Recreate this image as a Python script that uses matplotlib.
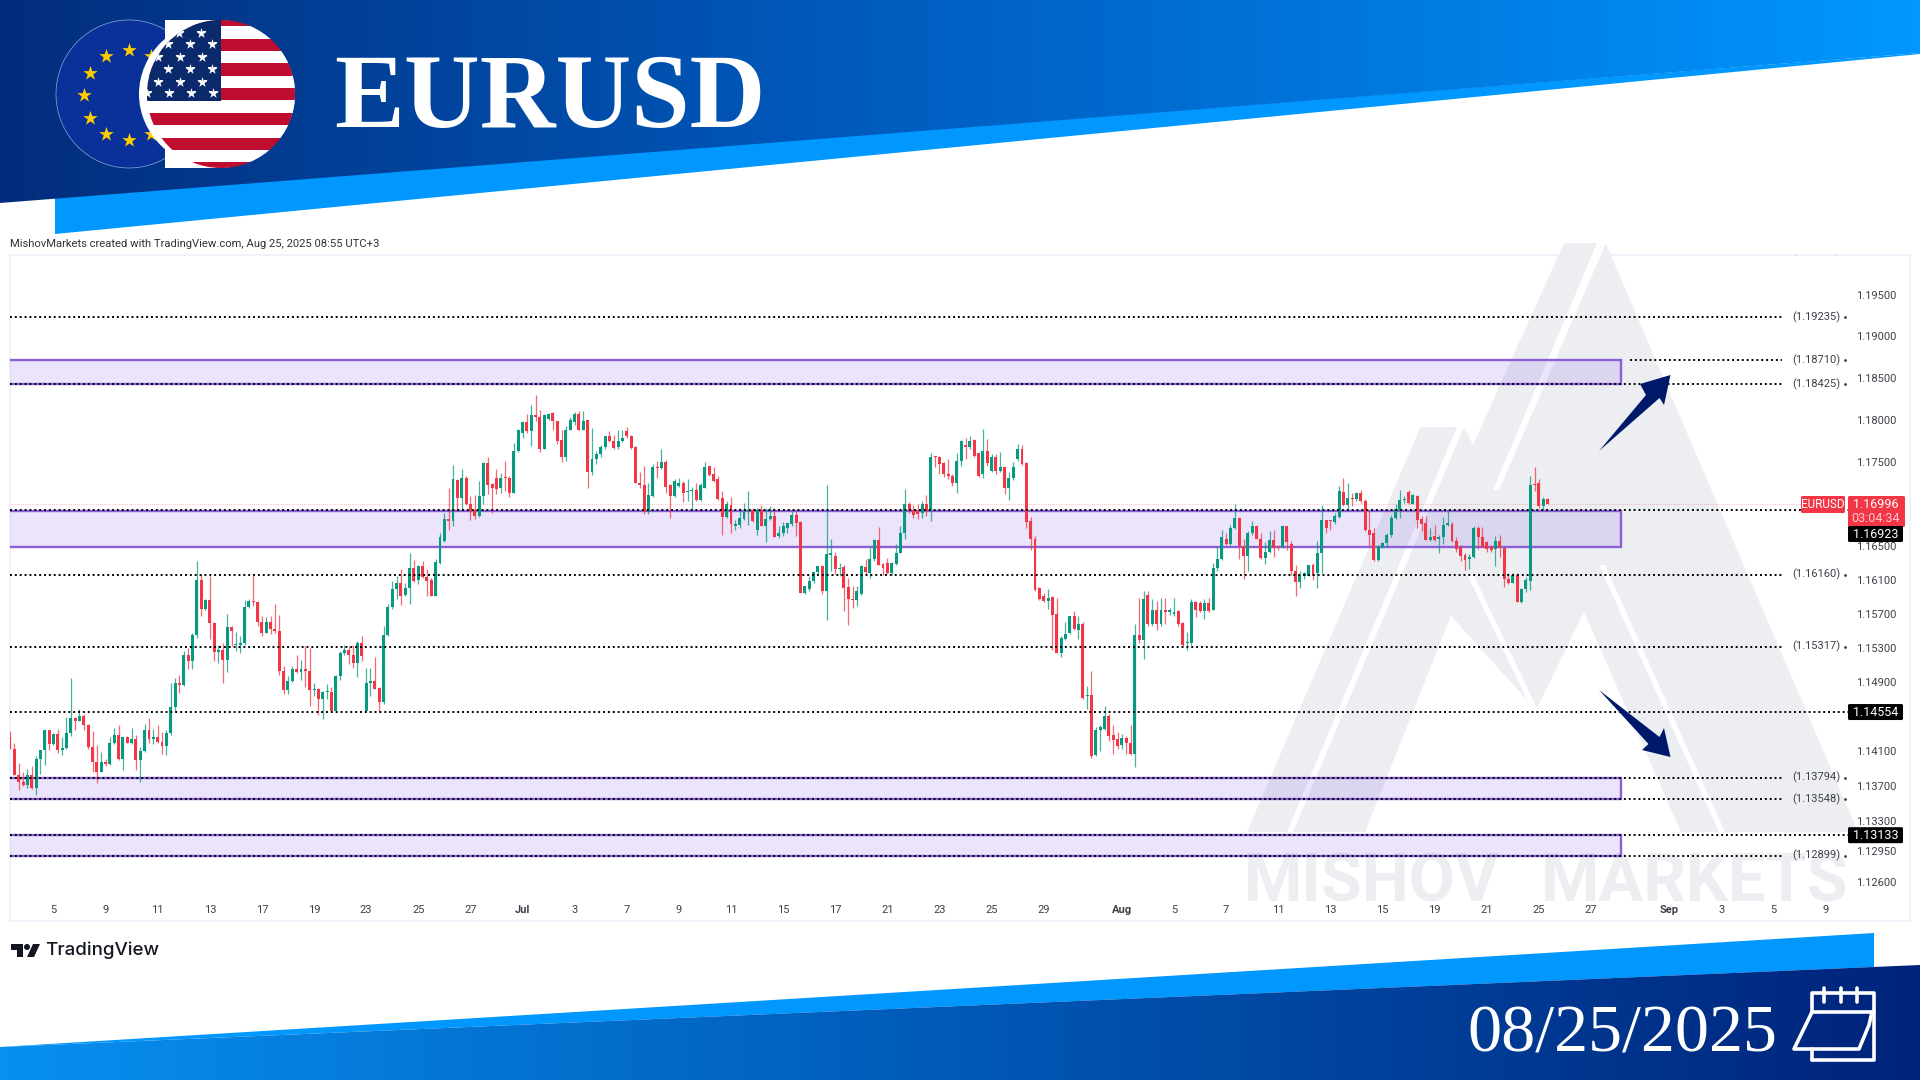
import numpy as np
import matplotlib
matplotlib.use('Agg')
import matplotlib.pyplot as plt
from matplotlib.colors import LinearSegmentedColormap
from matplotlib.patches import Polygon, Ellipse, Rectangle, FancyBboxPatch, Circle
from matplotlib.ticker import NullLocator, NullFormatter

# 4H candles, prices in 1/10000
open_pips = [
    11426,11413,11383,11375,11371,11383,11367,11401,11411,11435, 11418,11430,11411,11414,11431,11449,11445,11451,11440,11415,
    11397,11386,11397,11395,11420,11429,11401,11426,11420,11424, 11400,11410,11434,11424,11427,11421,11416,11431,11461,11489,
    11487,11522,11515,11545,11610,11576,11586,11559,11525,11528, 11516,11554,11533,11533,11536,11578,11585,11584,11560,11548,
    11560,11552,11550,11503,11481,11491,11506,11502,11506,11503, 11481,11482,11470,11479,11479,11457,11497,11524,11528,11522,
    11513,11536,11457,11489,11491,11483,11467,11545,11578,11599, 11606,11592,11600,11624,11610,11626,11613,11610,11591,11630,
    11656,11682,11679,11728,11707,11730,11700,11692,11685,11709, 11748,11723,11731,11718,11731,11730,11713,11763,11784,11797,
    11786,11805,11803,11765,11801,11808,11798,11776,11756,11788, 11797,11807,11788,11799,11737,11753,11759,11767,11780,11774,
    11767,11774,11786,11780,11767,11724,11722,11690,11709,11744, 11742,11749,11722,11709,11721,11725,11714,11715,11716,11704,
    11719,11745,11735,11729,11707,11684,11698,11673,11675,11682, 11690,11693,11669,11693,11673,11682,11685,11662,11665,11671,
    11676,11687,11678,11595,11599,11608,11619,11626,11597,11639, 11638,11623,11625,11602,11587,11586,11593,11625,11618,11634,
    11657,11629,11630,11618,11629,11642,11665,11700,11693,11691, 11689,11700,11691,11756,11756,11748,11735,11733,11724,11751,
    11770,11767,11776,11760,11735,11763,11739,11755,11739,11743, 11718,11730,11753,11765,11748,11679,11658,11600,11591,11585,
    11590,11570,11524,11541,11547,11568,11551,11558,11474,11475, 11406,11435,11436,11451,11429,11424,11417,11425,11420,11407,
    11545,11539,11592,11558,11575,11558,11575,11572,11570,11573, 11559,11536,11536,11584,11583,11573,11583,11575,11624,11634,
    11658,11652,11671,11683,11650,11638,11665,11673,11658,11636, 11643,11657,11650,11649,11673,11652,11620,11607,11614,11614,
    11628,11618,11641,11680,11680,11678,11684,11714,11698,11707, 11705,11712,11703,11669,11665,11633,11649,11653,11663,11683,
    11693,11704,11714,11700,11709,11682,11677,11657,11662,11658, 11661,11675,11676,11656,11649,11639,11634,11637,11671,11660,
    11654,11649,11646,11656,11648,11611,11606,11616,11584,11599, 11609,11723,11724,11697,11706]
high_pips = [
    11433,11419,11396,11386,11389,11393,11405,11411,11436,11435, 11431,11436,11426,11450,11495,11450,11459,11453,11442,11433,
    11417,11409,11401,11426,11437,11440,11427,11428,11437,11429, 11415,11441,11449,11436,11440,11432,11435,11489,11495,11498,
    11526,11530,11548,11632,11617,11588,11614,11560,11534,11536, 11570,11556,11549,11544,11586,11587,11616,11585,11568,11566,
    11567,11581,11569,11509,11497,11509,11522,11516,11532,11530, 11489,11483,11480,11488,11484,11499,11526,11533,11532,11534,
    11538,11544,11507,11507,11520,11484,11556,11581,11608,11614, 11623,11606,11642,11633,11628,11632,11623,11612,11635,11665,
    11689,11718,11746,11729,11741,11733,11709,11710,11727,11749, 11755,11724,11741,11736,11751,11733,11772,11789,11798,11807,
    11817,11830,11811,11807,11808,11809,11798,11788,11792,11803, 11809,11810,11810,11800,11790,11763,11770,11781,11786,11782,
    11788,11788,11791,11782,11768,11737,11745,11724,11747,11751, 11765,11752,11723,11729,11731,11727,11729,11720,11724,11724,
    11749,11745,11744,11733,11715,11703,11708,11681,11695,11701, 11715,11695,11695,11698,11695,11697,11695,11673,11678,11677,
    11691,11691,11679,11603,11614,11619,11626,11628,11722,11658, 11643,11630,11628,11612,11603,11603,11628,11634,11647,11658,
    11672,11630,11636,11631,11652,11673,11717,11702,11698,11699, 11703,11710,11760,11757,11757,11749,11753,11735,11760,11776,
    11778,11780,11777,11761,11789,11777,11759,11759,11761,11744, 11737,11749,11771,11770,11749,11684,11662,11601,11594,11599,
    11591,11589,11544,11561,11568,11573,11568,11560,11486,11503, 11438,11440,11462,11453,11440,11432,11430,11428,11440,11558,
    11589,11597,11597,11587,11585,11589,11589,11577,11589,11575, 11560,11549,11587,11585,11585,11587,11589,11630,11649,11669,
    11665,11675,11699,11684,11658,11667,11679,11675,11665,11654, 11667,11669,11651,11675,11674,11656,11627,11620,11619,11627,
    11630,11656,11698,11681,11681,11689,11721,11731,11724,11713, 11714,11716,11706,11693,11671,11651,11654,11665,11686,11700,
    11716,11709,11716,11711,11710,11685,11685,11671,11675,11663, 11684,11693,11678,11661,11651,11642,11640,11674,11673,11672,
    11656,11651,11662,11663,11649,11618,11618,11618,11600,11613, 11733,11743,11729,11708,11707]
low_pips = [
    11412,11383,11365,11370,11367,11366,11359,11384,11394,11411, 11417,11408,11406,11412,11428,11434,11445,11434,11413,11386,
    11373,11386,11393,11394,11418,11400,11388,11420,11418,11388, 11374,11409,11420,11418,11420,11407,11406,11429,11455,11478,
    11486,11506,11506,11542,11568,11574,11540,11515,11513,11489, 11502,11532,11526,11524,11534,11577,11579,11556,11544,11547,
    11546,11548,11499,11476,11476,11490,11501,11493,11484,11462, 11474,11452,11447,11470,11456,11456,11493,11522,11511,11507,
    11496,11515,11457,11474,11482,11455,11465,11544,11576,11587, 11580,11591,11582,11607,11605,11612,11591,11591,11591,11629,
    11654,11669,11673,11691,11691,11698,11681,11682,11684,11699, 11711,11689,11711,11713,11715,11708,11712,11761,11778,11784,
    11768,11798,11761,11765,11800,11788,11771,11749,11751,11788, 11794,11788,11788,11718,11734,11747,11756,11765,11773,11765,
    11765,11773,11778,11765,11724,11719,11688,11688,11708,11731, 11741,11713,11683,11708,11720,11702,11703,11692,11703,11703,
    11718,11733,11726,11704,11663,11683,11665,11669,11671,11681, 11675,11678,11663,11673,11654,11681,11660,11659,11662,11665,
    11674,11662,11594,11593,11597,11606,11617,11593,11563,11620, 11617,11615,11573,11557,11577,11579,11592,11617,11612,11632,
    11628,11616,11617,11616,11628,11641,11658,11689,11683,11682, 11683,11685,11679,11743,11735,11732,11729,11721,11712,11745,
    11753,11765,11756,11732,11731,11745,11738,11735,11737,11711, 11704,11728,11751,11746,11671,11645,11597,11586,11584,11576,
    11528,11524,11520,11539,11546,11551,11541,11470,11459,11402, 11405,11410,11434,11422,11407,11413,11413,11407,11406,11392,
    11536,11517,11556,11556,11551,11556,11558,11569,11568,11556, 11532,11528,11534,11566,11572,11564,11572,11574,11620,11633,
    11651,11651,11670,11635,11611,11620,11663,11658,11635,11629, 11641,11637,11645,11647,11645,11616,11591,11600,11611,11614,
    11610,11600,11618,11665,11669,11676,11683,11697,11693,11697, 11703,11701,11667,11650,11632,11632,11648,11649,11661,11682,
    11683,11701,11700,11699,11671,11667,11657,11656,11656,11641, 11652,11673,11655,11643,11632,11622,11623,11636,11646,11649,
    11643,11643,11626,11637,11602,11605,11606,11584,11583,11596, 11598,11715,11695,11693,11700]
close_pips = [
    11413,11383,11375,11371,11383,11367,11401,11411,11435,11418, 11430,11411,11414,11431,11449,11445,11451,11440,11415,11397,
    11386,11397,11395,11420,11429,11401,11426,11420,11424,11400, 11410,11434,11424,11427,11421,11416,11431,11461,11489,11487,
    11522,11515,11545,11610,11576,11586,11559,11525,11528,11516, 11554,11550,11535,11536,11578,11585,11584,11560,11548,11560,
    11552,11550,11503,11481,11491,11506,11502,11506,11503,11481, 11482,11470,11479,11480,11457,11497,11524,11528,11522,11513,
    11536,11521,11489,11491,11482,11467,11545,11578,11599,11606, 11591,11600,11624,11608,11626,11613,11609,11591,11631,11660,
    11682,11679,11729,11707,11730,11700,11691,11685,11709,11748, 11722,11718,11717,11731,11730,11713,11763,11788,11797,11786,
    11805,11803,11765,11806,11807,11798,11774,11756,11788,11800, 11807,11788,11798,11737,11753,11759,11767,11780,11774,11766,
    11774,11778,11780,11766,11724,11722,11690,11710,11743,11742, 11749,11720,11709,11727,11725,11712,11714,11716,11704,11722,
    11744,11734,11727,11706,11684,11700,11676,11676,11683,11690, 11693,11679,11693,11673,11682,11685,11661,11665,11673,11677,
    11687,11677,11595,11603,11608,11619,11626,11597,11640,11642, 11623,11624,11600,11587,11586,11597,11626,11619,11635,11657,
    11628,11624,11618,11630,11642,11665,11700,11691,11687,11688, 11700,11691,11756,11755,11747,11735,11733,11724,11751,11774,
    11767,11774,11757,11733,11763,11748,11755,11739,11743,11718, 11730,11743,11765,11747,11678,11658,11598,11587,11585,11589,
    11569,11524,11542,11546,11567,11552,11558,11472,11475,11405, 11435,11438,11451,11428,11423,11416,11425,11420,11407,11545,
    11539,11588,11558,11575,11558,11575,11572,11574,11572,11558, 11534,11537,11584,11574,11573,11583,11573,11624,11634,11660,
    11652,11671,11683,11650,11638,11665,11673,11658,11636,11643, 11657,11647,11649,11673,11654,11620,11607,11616,11618,11627,
    11614,11642,11680,11671,11679,11685,11715,11698,11707,11705, 11712,11703,11669,11663,11633,11650,11653,11663,11683,11694,
    11704,11705,11701,11710,11681,11676,11657,11661,11657,11661, 11675,11677,11656,11646,11638,11633,11637,11671,11660,11649,
    11646,11645,11656,11647,11611,11606,11616,11584,11599,11610, 11722,11722,11697,11706,11700]

price_ticks = [1.195, 1.19, 1.185, 1.18, 1.175, 1.165, 1.161, 1.157, 1.153, 1.149, 1.141, 1.137, 1.133, 1.1295, 1.126]
level_labels = [1.19235, 1.1871, 1.18425, 1.1616, 1.15317, 1.13794, 1.13548, 1.12899]
level_tags = [1.16923, 1.14554, 1.13133]
last_price = 1.16996
zones = [(1.18425, 1.1871), (1.1649, 1.1691), (1.13548, 1.13794), (1.12899, 1.13133)]

date_labels = ['5','9','11','13','17','19','23','25','27','Jul','3','7','9','11','15','17','21','23','25','29',
               'Aug','5','7','11','13','15','19','21','25','27','Sep','3','5','9']
date_bars = [10,22,34,46,58,70,82,94,106,118,130,142,154,166,178,190,202,214,226,238,
             256,268,280,292,304,316,328,340,352,364,382,394,406,418]

o = np.array(open_pips) / 1e4
h = np.array(high_pips) / 1e4
l = np.array(low_pips) / 1e4
c = np.array(close_pips) / 1e4
bars = np.arange(len(c))

plt.rcParams['font.family'] = ['Roboto', 'DejaVu Sans']
GREEN = '#089981'
RED = '#f23645'
TXT = '#3d4048'
WM = '#eceef2'
NAVY = '#00186a'

fig = plt.figure(figsize=(19.2, 10.8), dpi=100, facecolor='white')


def px_axes(x0, y0, x1, y1, z):
    return fig.add_axes([x0 / 1920, 1 - y1 / 1080, (x1 - x0) / 1920, (y1 - y0) / 1080], zorder=z)


bg = px_axes(0, 0, 1920, 1080, 0)
bg.set_xlim(0, 1920)
bg.set_ylim(1080, 0)
bg.axis('off')


def gradient(ax, pts, colors):
    cm = LinearSegmentedColormap.from_list('g', colors)
    im = ax.imshow(np.linspace(0, 1, 512).reshape(1, -1), cmap=cm, extent=(0, 1920, 1080, 0), aspect='auto', zorder=2)
    im.set_clip_path(Polygon(pts, transform=ax.transData))


# banners
bg.add_patch(Polygon([(55, 197), (1920, 53), (1920, 54), (55, 234)], color='#0097ff', lw=0, zorder=1))
gradient(bg, [(0, 0), (1920, 0), (1920, 53), (0, 203)],
         [(0, '#032d7c'), (0.42, '#0058ba'), (0.57, '#0068cc'), (1, '#0097ff')])
bg.add_patch(Polygon([(0, 1047), (1874, 933), (1874, 967), (0, 1047)], color='#0097ff', lw=0, zorder=1))
gradient(bg, [(0, 1047), (1920, 965), (1920, 1080), (0, 1080)], [(0, '#0890f0'), (0.5, '#0059b6'), (1, '#00237a')])

# chart panel
bg.add_patch(Rectangle((10, 255), 1900, 666, fc='white', ec='#f0f3fa', lw=1.5, zorder=3))

# watermark
bg.add_patch(Polygon([(1247, 832), (1420.5, 427), (1464, 427), (1473, 445), (1564, 243), (1600, 243), (1606, 244),
                      (1858, 832)], color=WM, lw=0, zorder=4))
white_parts = [
    [(1597, 243), (1606, 243), (1499, 490), (1493, 490)],
    [(1457, 427), (1464, 427), (1293, 832), (1287, 832)],
    [(1467, 574), (1473, 574), (1538, 710), (1532, 710)],
    [(1599, 565), (1605, 565), (1725, 832), (1719, 832)],
    [(1365, 832), (1451, 616), (1536, 710), (1584, 612), (1681, 832)],
]
for w in white_parts:
    bg.add_patch(Polygon(w, color='white', lw=0, zorder=5))
bg.text(1371, 884, 'MISHOV', color=WM, fontsize=48, fontweight='bold', ha='center', va='center', zorder=6)
bg.text(1695, 884, 'MARKETS', color=WM, fontsize=48, fontweight='bold', ha='center', va='center', zorder=6)

# flags
bg.add_patch(Ellipse((129, 94), 146, 148, fc='#0a3199', ec='#8fa8d8', lw=0.5, zorder=7))
star_a = np.deg2rad(np.arange(0, 360, 30))
bg.scatter(128.6 + 45 * np.cos(star_a), 95 + 45 * np.sin(star_a), marker='*', s=120, color='#ffcc00', lw=0, zorder=8)
bg.add_patch(Rectangle((165, 20), 52, 148, fc='white', lw=0, zorder=9))
bg.add_patch(Ellipse((217, 94), 156, 148, fc='white', lw=0, zorder=9))
us_clip = Ellipse((221, 94), 148, 148, transform=bg.transData)
for k in range(13):
    s = bg.add_patch(Rectangle((130, 20 + k * 12.35 - 6), 180, 12.4, fc='#bf0d30' if k % 2 == 0 else 'white', lw=0, zorder=10))
    s.set_clip_path(us_clip)
s = bg.add_patch(Rectangle((130, 15), 91, 86, fc='#0a2a6b', lw=0, zorder=11))
s.set_clip_path(us_clip)
star_rows = [(33, 157), (44, 168), (57, 158), (69, 168), (82, 158), (93, 147)]
for yy, x0 in star_rows:
    xs = [x0 + 22 * n for n in range(4)]
    xs = [x for x in xs if x < 218]
    pts = bg.scatter(xs, [yy] * len(xs), marker='*', s=60, color='white', lw=0, zorder=12)
    pts.set_clip_path(us_clip)

bg.text(550, 101, 'EURUSD', color='white', fontsize=75.5, fontweight='bold', family='Liberation Serif', ha='center', va='center', zorder=7)
bg.text(1622, 1035, '08/25/2025', color='white', fontsize=49, family='Liberation Serif', ha='center', va='center', zorder=7)

# calendar icon
cal = dict(color='white', lw=2.6, zorder=7, solid_capstyle='round', solid_joinstyle='round')
bg.plot([1812, 1812, 1874, 1874, 1812], [1012, 993, 993, 1060, 1060], **cal)
bg.plot([1812, 1812], [1049, 1060], **cal)
bg.plot([1812, 1874], [1012, 1012], **cal)
bg.plot([1812, 1794, 1859, 1869, 1872], [1012, 1049, 1049, 1025, 1012], **cal)
for x in [1824, 1841, 1857]:
    bg.plot([x, x], [988, 1002], **cal)

# header and footer text
bg.text(10, 244, 'MishovMarkets created with TradingView.com, Aug 25, 2025 08:55 UTC+3', color='#333333', fontsize=8.1, va='center', zorder=7)
bg.add_patch(Polygon([(11, 944), (23, 944), (23, 957), (17, 957), (17, 950), (11, 950)], color='#131722', lw=0, zorder=7))
bg.add_patch(Circle((27, 947), 3, color='#131722', lw=0, zorder=7))
bg.add_patch(Polygon([(33, 944), (40, 944), (34, 957), (27, 957)], color='#131722', lw=0, zorder=7))
bg.text(45, 950, 'TradingView', color='#131722', fontsize=13.5, fontweight='medium', family='Inter', va='center', zorder=7)

# chart
ax = px_axes(10, 255, 1852, 895, 1)
ax.patch.set_alpha(0)
ax.set_yscale('log')
ax.set_xlim(0, 424.1)
ax.set_ylim(1.12449, 1.19986)
for sp in ax.spines.values():
    sp.set_visible(False)

for low, high in zones:
    ax.add_patch(Rectangle((-5, low), 376, high - low, fc=(0.49, 0.30, 0.90, 0.15), ec='#8a5fd8', lw=1.7, zorder=1))

colors = [GREEN if b >= a else RED for a, b in zip(o, c)]
ax.vlines(bars, l, h, colors=colors, lw=0.9, alpha=0.75, zorder=2)
ax.bar(bars, np.maximum(np.abs(c - o), 0.00012), bottom=np.minimum(o, c), width=0.68, color=colors, lw=0, zorder=2.2)

dots = dict(color='black', lw=1.4, linestyle=(0, (1, 1.5)), zorder=3)
for p in level_labels:
    ax.plot([373 if p == 1.1871 else 0, 408], [p, p], **dots)
    ax.text(415.8, p, '(%.5f)' % p, color=TXT, fontsize=8, ha='center', va='center', zorder=3)
    ax.plot([422.6], [p], marker='.', ms=2, color=TXT, zorder=3)
for p in level_tags:
    ax.plot([0, 424.1], [p, p], **dots)
ax.plot([0, 418], [last_price, last_price], color=RED, lw=0.5, linestyle=(0, (1, 2)), alpha=0.6, zorder=3)
ax.text(415.8, 1.2004, '(1.20000)', color=TXT, fontsize=8, ha='center', va='center', clip_on=True, zorder=3)

ax.set_yticks(price_ticks)
ax.set_yticklabels(['%.5f' % p for p in price_ticks])
ax.yaxis.set_minor_locator(NullLocator())
ax.yaxis.set_minor_formatter(NullFormatter())
ax.yaxis.tick_right()
ax.tick_params(axis='y', length=0, pad=3, labelsize=8, labelcolor=TXT)
ax.set_xticks(date_bars)
ax.set_xticklabels(date_labels)
ax.tick_params(axis='x', length=0, pad=7, labelsize=8, labelcolor=TXT)
for t, lab in zip(ax.get_xticklabels(), date_labels):
    if lab in ('Jul', 'Aug', 'Sep'):
        t.set_fontweight('bold')

# overlay: arrows and price tags
top = px_axes(0, 0, 1920, 1080, 2)
top.set_xlim(0, 1920)
top.set_ylim(1080, 0)
top.axis('off')
top.add_patch(Polygon([(1599, 451), (1646, 395), (1640, 384), (1670.5, 375), (1664, 405), (1659.5, 398)], color=NAVY, lw=0))
top.add_patch(Polygon([(1599, 690), (1648.5, 744), (1642, 750), (1670.5, 757), (1664, 728), (1659.5, 737)], color=NAVY, lw=0))


def tag(x0, y0, x1, y1, col):
    top.add_patch(FancyBboxPatch((x0 + 1.5, y0 + 1.5), x1 - x0 - 3, y1 - y0 - 3, boxstyle='round,pad=1.5', fc=col, ec='none'))


def price_y(p):
    return 1080 - ax.transData.transform((0, p))[1]


tag(1801, 496, 1845, 513, RED)
top.text(1823, 505, 'EURUSD', color='white', fontsize=8.5, ha='center', va='center')
tag(1848, 496, 1905, 527, RED)
top.text(1876, 505, '%.5f' % last_price, color='white', fontsize=9, ha='center', va='center')
top.text(1876, 519, '03:04:34', color='#ffc9ce', fontsize=9, ha='center', va='center')
for p, yc in zip(level_tags, [534, price_y(level_tags[1]), price_y(level_tags[2])]):
    tag(1848, yc - 8, 1903, yc + 8, 'black')
    top.text(1876, yc, '%.5f' % p, color='white', fontsize=9, ha='center', va='center')

fig.savefig('out.png', dpi=100)
